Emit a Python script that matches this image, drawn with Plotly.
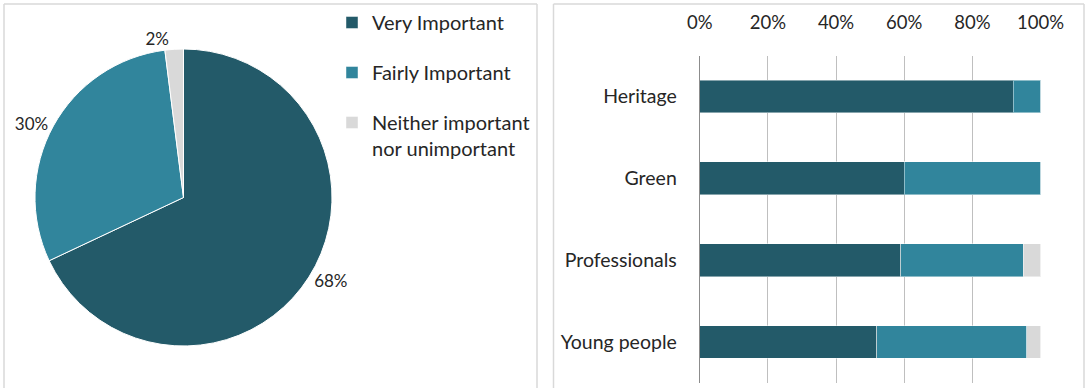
import plotly.graph_objects as go

# ---- data ----
levels = ["Very Important", "Fairly Important", "Neither important<br>nor unimportant"]
level_colors = ["#235A69", "#31859C", "#D9D9D9"]

overall_share = [68, 30, 2]

groups = ["Heritage", "Green", "Professionals", "Young people"]
very_important = [92, 60, 59, 52]
fairly_important = [8, 40, 36, 44]
neither = [0, 0, 5, 4]

x_ticks = [0, 20, 40, 60, 80, 100]

# ---- page geometry (pixels -> paper) ----
W, H = 1086, 388


def px_x(v):
    return v / W


def px_y(v):
    return 1 - v / H


FONT = "Lato"
TEXT = "#262626"

fig = go.Figure()

# overall pie
fig.add_trace(go.Pie(
    labels=levels,
    values=overall_share,
    sort=False,
    direction="clockwise",
    rotation=0,
    marker=dict(colors=level_colors, line=dict(color="white", width=1)),
    texttemplate="%{value}%",
    textposition="outside",
    textfont=dict(family=FONT, size=17, color=TEXT),
    showlegend=False,
    automargin=False,
    domain=dict(x=[px_x(35), px_x(332)], y=[px_y(346), px_y(49)]),
    hoverinfo="label+percent",
))

# stacked bars by group
for name, vals, col in zip(levels, [very_important, fairly_important, neither], level_colors):
    fig.add_trace(go.Bar(
        name=name,
        legendgroup=name,
        y=groups,
        x=vals,
        orientation="h",
        marker=dict(color=col, line=dict(color="rgba(255,255,255,0.45)", width=1)),
        hovertemplate="%{y}: %{x}%<extra>" + name.replace("<br>", " ") + "</extra>",
    ))

# panel frames
frame = dict(type="line", xref="paper", yref="paper",
             line=dict(color="#D9D9D9", width=1.5), layer="below")
shapes = []
for left, right in [(4, 537), (553.5, 1084)]:
    shapes.append(dict(frame, x0=px_x(left), x1=px_x(left), y0=0, y1=px_y(4)))
    shapes.append(dict(frame, x0=px_x(right), x1=px_x(right), y0=0, y1=px_y(4)))
    shapes.append(dict(frame, x0=px_x(left), x1=px_x(right), y0=px_y(4), y1=px_y(4)))

fig.update_layout(
    width=W,
    height=H,
    margin=dict(l=0, r=0, t=0, b=0, autoexpand=False),
    paper_bgcolor="white",
    plot_bgcolor="white",
    barmode="stack",
    bargap=0.6,
    font=dict(family=FONT, size=19, color=TEXT),
    shapes=shapes,
    legend=dict(
        x=px_x(332), xanchor="left",
        y=px_y(3), yanchor="top",
        traceorder="grouped",
        tracegroupgap=21,
        valign="top",
        font=dict(family=FONT, size=20, color=TEXT),
        bgcolor="rgba(0,0,0,0)",
        itemclick=False,
        itemdoubleclick=False,
    ),
    xaxis=dict(
        domain=[px_x(699.7), px_x(1040.5)],
        range=[0, 100],
        side="top",
        tickvals=x_ticks,
        ticktext=[f"{t}%" for t in x_ticks],
        showgrid=True,
        gridcolor="#BFBFBF",
        gridwidth=1,
        zeroline=False,
        showline=False,
        ticks="",
        ticklabelstandoff=22,
        tickfont=dict(family=FONT, size=18.5, color=TEXT),
        automargin=False,
        fixedrange=True,
    ),
    yaxis=dict(
        domain=[px_y(383), px_y(55.5)],
        categoryorder="array",
        categoryarray=groups,
        autorange="reversed",
        showline=True,
        linecolor="#8C8C8C",
        linewidth=1,
        showgrid=False,
        zeroline=False,
        ticks="",
        ticklabelstandoff=18,
        tickfont=dict(family=FONT, size=19.5, color=TEXT),
        automargin=False,
        fixedrange=True,
    ),
)

fig.write_html("out.html")
